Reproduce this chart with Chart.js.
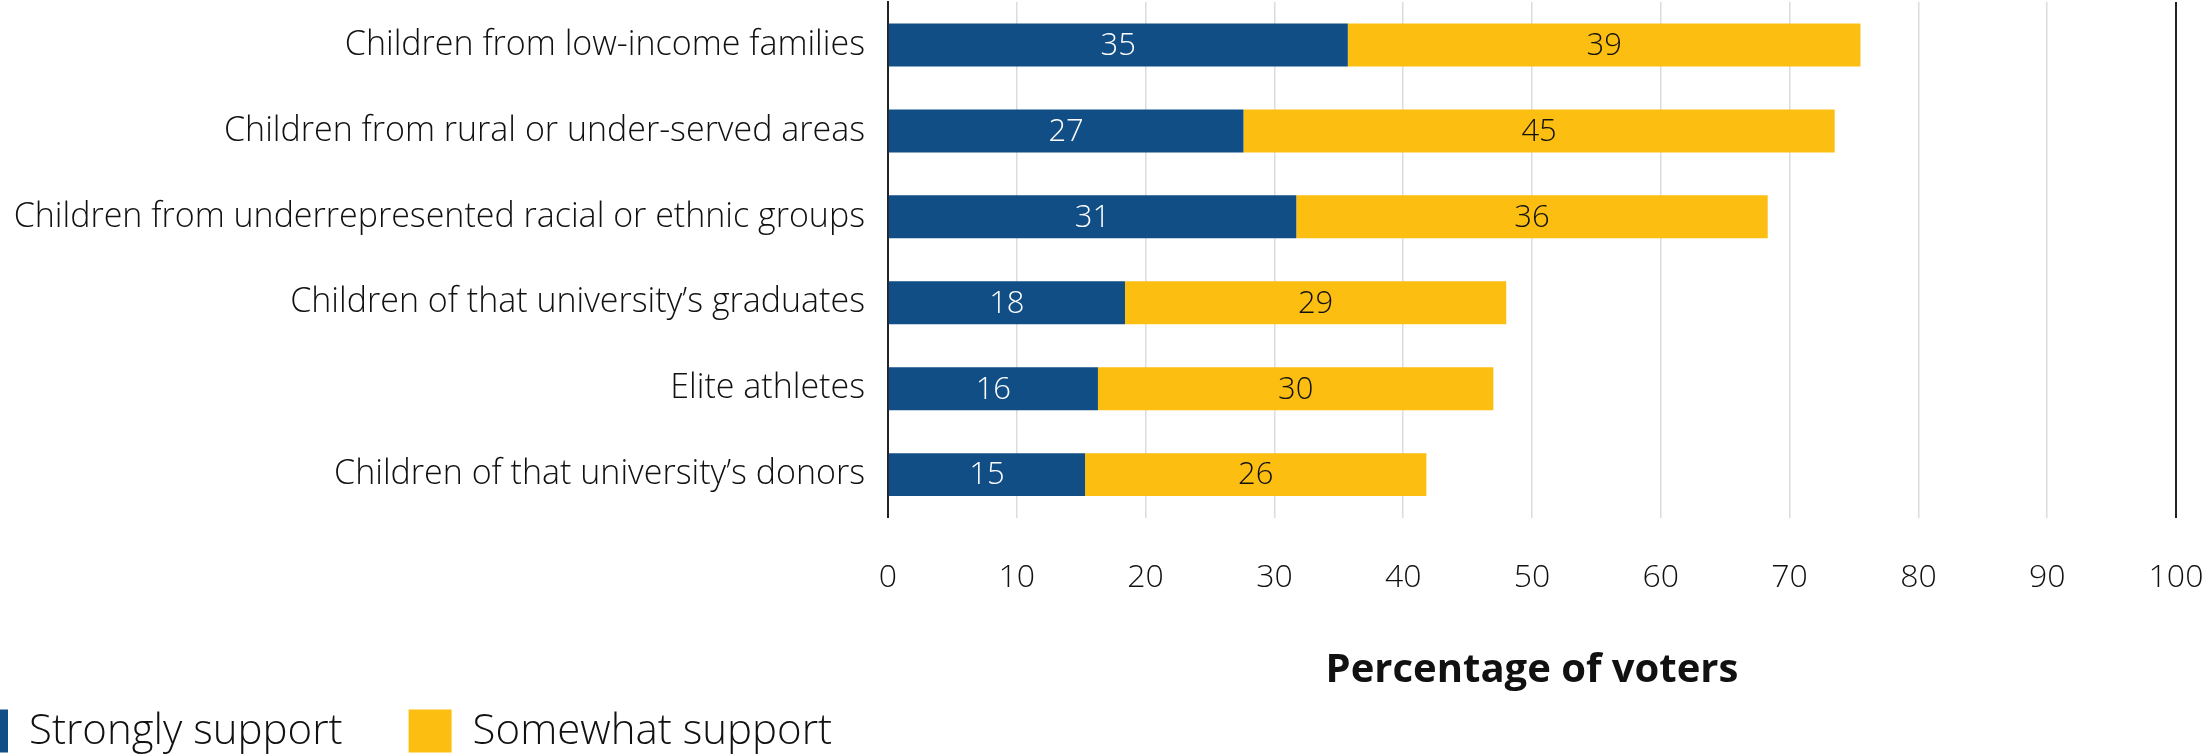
<!DOCTYPE html>
<html>
<head>
<meta charset="utf-8">
<script src="https://cdn.jsdelivr.net/npm/chart.js@4"></script>
<style>
  html, body { margin: 0; padding: 0; background: #fff; }
  #wrap { width: 2211px; height: 756px; position: relative; }
</style>
</head>
<body>
<div id="wrap"><canvas id="chart"></canvas></div>
<script>
const categories = [
  "Children from low-income families",
  "Children from rural or under-served areas",
  "Children from underrepresented racial or ethnic groups",
  "Children of that university\u2019s graduates",
  "Elite athletes",
  "Children of that university\u2019s donors"
];
const stronglySupport = [35.7, 27.6, 31.7, 18.4, 16.3, 15.3];
const somewhatSupport = [39.8, 45.9, 36.6, 29.6, 30.7, 26.5];
const xTicks = [0, 10, 20, 30, 40, 50, 60, 70, 80, 90, 100];

const FONT = "'Open Sans', sans-serif";
const BLUE = "#114e86";
const YELLOW = "#fdbe12";

// numbers written inside each bar segment
const barLabels = {
  id: "barLabels",
  afterDatasetsDraw(chart) {
    const ctx = chart.ctx;
    ctx.save();
    ctx.font = "300 31px " + FONT;
    ctx.textAlign = "center";
    ctx.textBaseline = "middle";
    chart.data.datasets.forEach((ds, i) => {
      const meta = chart.getDatasetMeta(i);
      ctx.fillStyle = i === 0 ? "#ffffff" : "#111111";
      meta.data.forEach((bar, j) => {
        const cx = (bar.x + bar.base) / 2;
        ctx.fillText(String(Math.floor(ds.data[j])), cx, bar.y + 1);
      });
    });
    ctx.restore();
  }
};

// legend along the bottom-left edge (starts partly off canvas, like the source)
const bottomLegend = {
  id: "bottomLegend",
  afterDraw(chart) {
    const ctx = chart.ctx;
    const box = 43;
    const cy = chart.height - 25;
    let x = -35;
    ctx.save();
    ctx.font = "300 42px " + FONT;
    ctx.textBaseline = "middle";
    ctx.textAlign = "left";
    chart.data.datasets.forEach((ds) => {
      ctx.fillStyle = ds.backgroundColor;
      ctx.fillRect(x, cy - box / 2, box, box);
      x += box + 21;
      ctx.fillStyle = "#111111";
      ctx.fillText(ds.label, x, cy + 1);
      x += ctx.measureText(ds.label).width + 66;
    });
    ctx.restore();
  }
};

new Chart(document.getElementById("chart"), {
  type: "bar",
  data: {
    labels: categories,
    datasets: [
      {
        label: "Strongly support",
        data: stronglySupport,
        backgroundColor: BLUE,
        barPercentage: 0.5,
        categoryPercentage: 1.0
      },
      {
        label: "Somewhat support",
        data: somewhatSupport,
        backgroundColor: YELLOW,
        barPercentage: 0.5,
        categoryPercentage: 1.0
      }
    ]
  },
  options: {
    indexAxis: "y",
    responsive: true,
    maintainAspectRatio: false,
    animation: false,
    layout: { padding: { top: 2, right: 35, bottom: 61, left: 0 } },
    plugins: {
      legend: { display: false },
      tooltip: { enabled: false }
    },
    scales: {
      x: {
        stacked: true,
        min: 0,
        max: 100,
        afterBuildTicks: (s) => { s.ticks = xTicks.map((v) => ({ value: v })); },
        afterFit: (s) => { s.paddingLeft = 0; s.paddingRight = 0; },
        border: { display: false },
        grid: {
          drawTicks: false,
          color: (c) => (c.tick && (c.tick.value === 100 || c.tick.value === 0) ? "#222222" : "#dcdcdc"),
          lineWidth: (c) => (c.tick && c.tick.value === 100 ? 2 : 1.5)
        },
        ticks: {
          padding: 41,
          color: "#111111",
          font: { family: FONT, size: 32, weight: "300" }
        },
        title: {
          display: true,
          text: "Percentage of voters",
          color: "#111111",
          font: { family: FONT, size: 40, weight: "bold" },
          padding: { top: 9, bottom: 0 }
        }
      },
      y: {
        stacked: true,
        afterFit: (s) => { s.width = 888; s.paddingTop = 0; s.paddingBottom = 0; },
        border: { display: true, color: "#222222", width: 2 },
        grid: { display: false, drawTicks: false },
        ticks: {
          padding: 23,
          color: "#111111",
          font: { family: FONT, size: 34, weight: "300" }
        }
      }
    }
  },
  plugins: [barLabels, bottomLegend]
});
</script>
</body>
</html>
